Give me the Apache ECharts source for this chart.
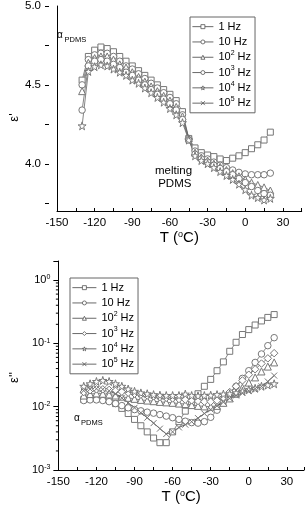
<!DOCTYPE html>
<html><head><meta charset="utf-8">
<script src="https://cdn.jsdelivr.net/npm/echarts@6/dist/echarts.min.js"></script>
<style>html,body{margin:0;padding:0;background:#fff}#c{width:307px;height:510px}</style>
</head><body><div id="c"></div>
<script>
// ---- data ----
const temps = [-130,-125,-120,-115,-110,-105,-100,-95,-90,-85,-80,-75,-70,-65,-60,-55,-50,-45,-40,-35,-30,-25,-20,-15,-10,-5,0,5,10,15,20];
const legendLabels = ['1 Hz','10 Hz','10{sup|2} Hz','10{sup|3} Hz','10{sup|4} Hz','10{sup|5} Hz'];
const xTickLabels = [-150,-120,-90,-60,-30,0,30];
const yTickLabelsTop = [4.0,4.5,5.0];

// epsilon' (top panel)
const epsP_1Hz  = [4.53,4.68,4.72,4.74,4.73,4.71,4.68,4.65,4.62,4.59,4.56,4.53,4.50,4.47,4.44,4.40,4.33,4.16,4.10,4.07,4.055,4.045,4.03,4.02,4.035,4.05,4.07,4.095,4.12,4.15,4.20];
const epsP_10Hz = [4.50,4.66,4.69,4.70,4.70,4.68,4.65,4.62,4.60,4.57,4.54,4.51,4.48,4.45,4.42,4.38,4.31,4.16,4.08,4.05,4.03,4.01,3.99,3.975,3.96,3.945,3.935,3.93,3.93,3.93,3.94];
const epsP_1e2  = [4.46,4.64,4.67,4.68,4.68,4.66,4.63,4.61,4.58,4.55,4.52,4.49,4.46,4.43,4.40,4.36,4.30,4.16,4.07,4.04,4.02,4.00,3.98,3.96,3.94,3.92,3.90,3.88,3.865,3.85,3.83];
const epsP_1e3  = [4.34,4.62,4.65,4.66,4.65,4.63,4.61,4.58,4.56,4.53,4.50,4.47,4.44,4.41,4.38,4.34,4.28,4.15,4.06,4.03,4.01,3.99,3.97,3.95,3.93,3.905,3.88,3.855,3.83,3.81,3.80];
const epsP_1e4  = [4.24,4.585,4.615,4.627,4.62,4.60,4.58,4.56,4.53,4.51,4.48,4.45,4.42,4.39,4.35,4.31,4.26,4.15,4.05,4.02,4.00,3.975,3.95,3.925,3.90,3.87,3.835,3.80,3.785,3.77,3.78];
const epsP_1e5  = [];

// epsilon'' (bottom panel)
const epsPP_1Hz  = [0.0130,0.0135,0.0135,0.0132,0.0125,0.0112,0.0094,0.0078,0.0063,0.0050,0.0040,0.0032,0.0027,0.0027,0.0040,0.0058,0.0085,0.0120,0.0160,0.0210,0.027,0.037,0.051,0.075,0.104,0.138,0.165,0.195,0.226,0.257,0.285];
const epsPP_10Hz = [0.0125,0.0128,0.0128,0.0125,0.0120,0.0112,0.0104,0.0096,0.0090,0.0086,0.0082,0.0079,0.0075,0.0071,0.0067,0.0063,0.0059,0.0056,0.0055,0.0058,0.0068,0.0088,0.012,0.016,0.021,0.028,0.037,0.050,0.068,0.092,0.123];
const epsPP_1e2  = [0.0150,0.0158,0.0162,0.0160,0.0156,0.0150,0.0144,0.0138,0.0133,0.0128,0.0125,0.0122,0.0119,0.0117,0.0115,0.0112,0.0110,0.0106,0.0103,0.0101,0.0100,0.0103,0.0115,0.0135,0.016,0.020,0.024,0.029,0.036,0.043,0.050];
const epsPP_1e3  = [0.0170,0.0182,0.0188,0.0188,0.0184,0.0178,0.0172,0.0166,0.0160,0.0155,0.0150,0.0146,0.0142,0.0138,0.0135,0.0132,0.0129,0.0126,0.0123,0.0120,0.0120,0.0125,0.0140,0.0170,0.021,0.026,0.032,0.039,0.048,0.058,0.070];
const epsPP_1e4  = [0.021,0.023,0.025,0.026,0.025,0.023,0.021,0.019,0.0175,0.0165,0.016,0.0155,0.0152,0.015,0.015,0.015,0.0158,0.0150,0.0148,0.015,0.0152,0.0155,0.0158,0.016,0.0165,0.0175,0.0185,0.0195,0.021,0.022,0.023];
const epsPP_1e5  = [0.0180,0.0190,0.0192,0.0188,0.0178,0.0160,0.0138,0.0115,0.0096,0.0080,0.0067,0.0055,0.0045,0.0037,0.0040,0.0047,0.0052,0.0058,0.0066,0.0078,0.0090,0.0103,0.0118,0.0135,0.0150,0.0165,0.0178,0.0192,0.021,0.025,0.031];

const logMinorTicks = [0.002,0.003,0.004,0.005,0.006,0.007,0.008,0.009,0.02,0.03,0.04,0.05,0.06,0.07,0.08,0.09,0.2,0.3,0.4,0.5,0.6,0.7,0.8,0.9];

// ---- styling ----
const FONT = 'Liberation Sans, Arial, sans-serif';
const STAR = 'path://M50,0L61.2,34.5L97.6,34.5L68.2,55.9L79.4,90.5L50,69.1L20.6,90.5L31.8,55.9L2.4,34.5L38.8,34.5Z';
const CROSS = 'path://M0,0L10,10M10,0L0,10';
const symsTop = [['rect',6],['circle',6.5],['triangle',7],['circle',6.5],[STAR,8],[CROSS,6]];
const symsBot = [['rect',6],['circle',6.5],['triangle',7],['diamond',7.5],[STAR,8],[CROSS,6]];
const topVals = [epsP_1Hz,epsP_10Hz,epsP_1e2,epsP_1e3,epsP_1e4,epsP_1e5];
const botVals = [epsPP_1Hz,epsPP_10Hz,epsPP_1e2,epsPP_1e3,epsPP_1e4,epsPP_1e5];
const topNames = legendLabels.map((l,i)=>'t'+i);
const botNames = legendLabels.map((l,i)=>'b'+i);

function mk(name, xi, yi, vals, sym, size, i) {
  return {
    type:'line', name, xAxisIndex:xi, yAxisIndex:yi,
    data: vals.map((v,k)=>[temps[k], v]),
    symbol: sym, symbolSize: size, showSymbol:true, showAllSymbol:true,
    lineStyle:{color: i===5 ? '#333' : '#666', width:0.8},
    itemStyle:{color:'#fff', borderColor:'#777', borderWidth:1},
    animation:false, silent:true
  };
}
const series = [];
topVals.forEach((v,i)=>series.push(mk(topNames[i],0,0,v,symsTop[i][0],symsTop[i][1],i)));
botVals.forEach((v,i)=>series.push(mk(botNames[i],2,2,v,symsBot[i][0],symsBot[i][1],i)));
series.push({
  type:'custom', xAxisIndex:2, yAxisIndex:2, silent:true, animation:false, clip:false,
  data: logMinorTicks.map(v=>[-150, v]),
  renderItem:(params, api)=>{
    const p = api.coord([api.value(0), api.value(1)]);
    return {type:'line', shape:{x1:p[0]-2.5, y1:p[1], x2:p[0], y2:p[1]}, style:{stroke:'#000', lineWidth:1}};
  }
});

const sup = {fontSize:7, verticalAlign:'top', padding:[0,0,5,0], fontFamily:FONT, color:'#000'};
const xLabel = {
  fontSize:11.5, fontFamily:FONT, color:'#000', margin:6,
  formatter: v => xTickLabels.indexOf(v) >= 0 ? String(v) : ''
};
const xAxisLine = {show:true, onZero:false, lineStyle:{color:'#000', width:1}};
const yAxisLine = {show:true, onZero:false, lineStyle:{color:'#000', width:1}};
const xNameStyle = {fontSize:15, fontFamily:FONT, color:'#000', rich:{sup:{fontSize:9, verticalAlign:'top', padding:[0,0,7,0], fontFamily:FONT}}};

const legendBase = {
  orient:'vertical', itemGap:0, itemHeight:5, borderColor:'#666', borderWidth:1,
  lineStyle:{width:0.8, color:'#444'},
  itemStyle:{borderWidth:0.8, borderColor:'#555', color:'#fff'},
  textStyle:{fontSize:11, fontFamily:FONT, color:'#000', lineHeight:15.3, rich:{sup:{fontSize:7, verticalAlign:'top', padding:[0,0,6,0], fontFamily:FONT}}},
  selectedMode:false
};

const option = {
  animation:false,
  grid:[
    {left:49, top:6, width:252.7, height:205},
    {left:49, top:6, width:252.7, height:197.5},
    {left:49, top:261, width:258, height:209}
  ],
  xAxis:[
    {gridIndex:0, type:'value', position:'bottom', min:-150, max:45, interval:15, axisLine:xAxisLine, splitLine:{show:false},
     axisTick:{inside:true, length:3, lineStyle:{color:'#000'}}, axisLabel:xLabel,
     name:'T ({sup|o}C)', nameLocation:'middle', nameGap:17, nameTextStyle:Object.assign({verticalAlign:'top'}, xNameStyle)},
    {gridIndex:1, type:'value', min:-150, max:45, show:false},
    {gridIndex:2, type:'value', position:'bottom', min:-150, max:43.5, interval:15, axisLine:xAxisLine, splitLine:{show:false},
     axisTick:{inside:true, length:3, lineStyle:{color:'#000'}}, axisLabel:xLabel,
     name:'T ({sup|o}C)', nameLocation:'middle', nameGap:17, nameTextStyle:Object.assign({verticalAlign:'top'}, xNameStyle)}
  ],
  yAxis:[
    {gridIndex:0, type:'value', position:'left', min:3.7, max:5.0, axisLine:yAxisLine, axisTick:{show:false}, axisLabel:{show:false}, splitLine:{show:false},
     name:"ε'", nameLocation:'middle', nameRotate:90, nameGap:36, nameTextStyle:{fontSize:13, fontFamily:FONT, color:'#000', padding:[0,0,0,-18]}},
    {gridIndex:1, type:'value', position:'left', min:3.75, max:5.0, interval:0.25, axisLine:{show:false, onZero:false}, splitLine:{show:false},
     axisTick:{show:true, length:4, lineStyle:{color:'#000'}},
     axisLabel:{fontSize:11.5, fontFamily:FONT, color:'#000', margin:8,
       formatter: v => yTickLabelsTop.some(t=>Math.abs(t-v)<1e-6) ? v.toFixed(1) : ''}},
    {gridIndex:2, type:'log', position:'left', logBase:10, min:0.001, max:2, axisLine:yAxisLine, splitLine:{show:false},
     axisTick:{show:true, length:5, lineStyle:{color:'#000'}},
     axisLabel:{fontSize:11, fontFamily:FONT, color:'#000', margin:8,
       rich:{sup:sup},
       formatter: v => { const e = Math.log10(v); const r = Math.round(e); return Math.abs(e-r) < 1e-6 ? '10{sup|' + r + '}' : ''; }},
     name:"ε''", nameLocation:'middle', nameRotate:90, nameGap:36, nameTextStyle:{fontSize:13, fontFamily:FONT, color:'#000', padding:[0,0,0,-24]}}
  ],
  legend:[
    Object.assign({}, legendBase, {data:topNames, left:190, top:17, itemWidth:21, padding:[2,4,2,2],
      formatter: n => legendLabels[topNames.indexOf(n)]}),
    Object.assign({}, legendBase, {data:botNames, left:70, top:278, itemWidth:24, padding:[2,4,2,2],
      formatter: n => legendLabels[botNames.indexOf(n)]})
  ],
  graphic:[
    {type:'text', left:57, top:30, style:{text:'α', fontSize:10, fontFamily:FONT, fill:'#000'}},
    {type:'text', left:64.5, top:36, style:{text:'PDMS', fontSize:7.5, fontFamily:FONT, fill:'#000'}},
    {type:'text', left:74, top:413, style:{text:'α', fontSize:10, fontFamily:FONT, fill:'#000'}},
    {type:'text', left:81, top:419, style:{text:'PDMS', fontSize:7.5, fontFamily:FONT, fill:'#000'}},
    {type:'text', left:155, top:164, style:{text:'melting\n PDMS', fontSize:11.5, lineHeight:13.5, fontFamily:FONT, fill:'#000', align:'left'}}
  ],
  series
};
const chart = echarts.init(document.getElementById('c'), null, {renderer:'canvas'});
chart.setOption(option);
</script>
</body></html>
